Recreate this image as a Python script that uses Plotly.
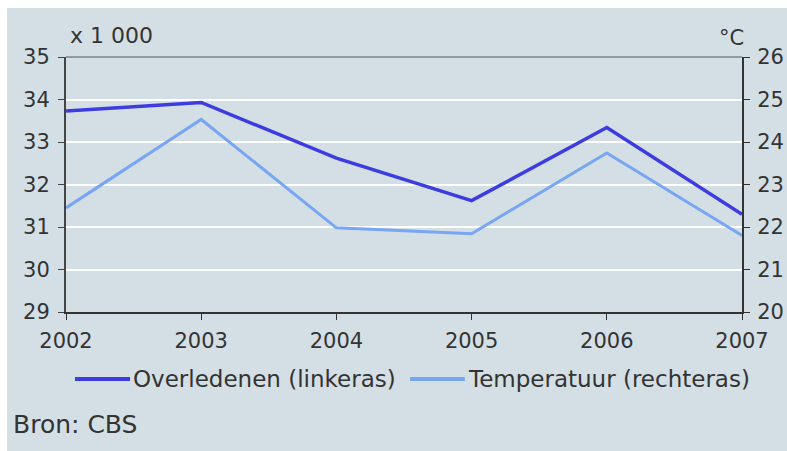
import plotly.graph_objects as go

years = [2002, 2003, 2004, 2005, 2006, 2007]
overledenen = [33.73, 33.93, 32.62, 31.62, 33.34, 31.30]
temperatuur = [22.45, 24.53, 21.98, 21.84, 23.74, 21.80]
left_ticks = [29, 30, 31, 32, 33, 34, 35]
right_ticks = [20, 21, 22, 23, 24, 25, 26]
names = ["Overledenen (linkeras)", "Temperatuur (rechteras)"]
colors = ["#3c3ce0", "#78a6f2"]

FONT = "DejaVu Sans"
TXT = "#333333"
BG = "#d4dfe5"

fig = go.Figure()
fig.add_trace(go.Scatter(x=years, y=overledenen, mode="lines", name=names[0],
                         line=dict(color=colors[0], width=3.5), yaxis="y"))
fig.add_trace(go.Scatter(x=years, y=temperatuur, mode="lines", name=names[1],
                         line=dict(color=colors[1], width=3), yaxis="y2"))

fig.update_layout(
    width=787, height=451,
    margin=dict(l=66, r=45, t=57, b=139),
    paper_bgcolor="white",
    plot_bgcolor="rgba(0,0,0,0)",
    showlegend=False,
    font=dict(family=FONT, size=21, color=TXT),
    xaxis=dict(range=[2002, 2007], tickvals=years, ticktext=[str(y) for y in years],
               showgrid=False, zeroline=False, showline=True, linecolor="#333333",
               linewidth=2, ticks="outside", ticklen=6, tickcolor="#333333",
               ticklabelstandoff=3, automargin=False),
    yaxis=dict(range=[29, 35], tickvals=left_ticks, showgrid=True, gridcolor="white",
               gridwidth=2, zeroline=False, showline=True, linecolor="#444444",
               linewidth=2, ticks="outside", ticklen=6, tickcolor="#444444",
               ticklabelstandoff=4, automargin=False),
    yaxis2=dict(range=[20, 26], tickvals=right_ticks, overlaying="y", side="right",
                showgrid=False, zeroline=False, showline=True, linecolor="#333333",
                linewidth=2, ticks="outside", ticklen=6, tickcolor="#333333",
                ticklabelstandoff=3, automargin=False),
)

# panel background (white strip left/top like the reference)
fig.add_shape(type="rect", xref="paper", yref="paper", x0=-0.0873, x1=1.2,
              y0=-0.7, y1=1.192, fillcolor=BG, line=dict(width=0), layer="below")
# top border line
fig.add_shape(type="line", xref="paper", yref="paper", x0=0, x1=1, y0=1, y1=1,
              line=dict(color="#8e9ca3", width=2), layer="above")

fig.add_annotation(text="x 1 000", xref="paper", yref="paper", x=0.003, y=1.086,
                   xanchor="left", yanchor="middle", showarrow=False,
                   font=dict(family=FONT, size=22, color=TXT))
fig.add_annotation(text="°C", xref="paper", yref="paper", x=1.006, y=1.075,
                   xanchor="right", yanchor="middle", showarrow=False,
                   font=dict(family=FONT, size=21, color=TXT))

# legend drawn manually
leg_y = -0.263
seg = [(0.0133, 0.0947), (0.509, 0.590)]
for (a, b), c, n in zip(seg, colors, names):
    fig.add_shape(type="line", xref="paper", yref="paper", x0=a, x1=b, y0=leg_y, y1=leg_y,
                  line=dict(color=c, width=4))
    fig.add_annotation(text=n, xref="paper", yref="paper", x=b + 0.001, y=leg_y,
                       xanchor="left", yanchor="middle", showarrow=False,
                       font=dict(family=FONT, size=23, color=TXT))

fig.add_annotation(text="Bron: CBS", xref="paper", yref="paper", x=-0.081, y=-0.443,
                   xanchor="left", yanchor="middle", showarrow=False,
                   font=dict(family=FONT, size=25, color=TXT))

fig.write_html("out.html", post_script="document.body.style.margin='0px';",
               config={"displayModeBar": False})
